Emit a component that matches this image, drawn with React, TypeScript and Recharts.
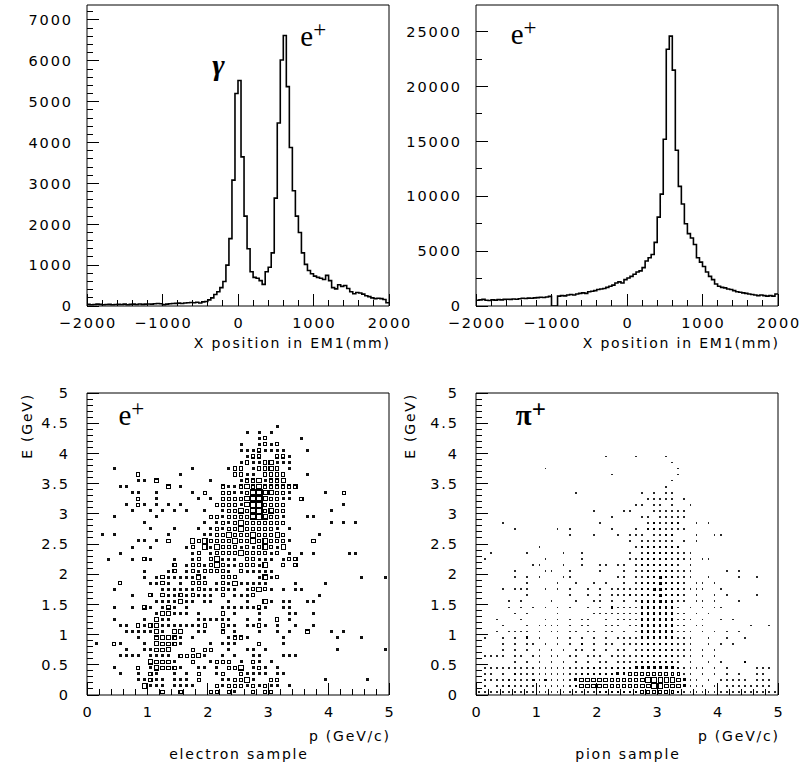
import React from "react";
import {
  LineChart,
  Line,
  XAxis,
  YAxis,
  ScatterChart,
  Scatter,
  ReferenceArea,
  ReferenceDot,
} from "recharts";

const FONT = "'DejaVu Sans', 'Liberation Sans', sans-serif";
const SERIF = "'Liberation Serif', 'DejaVu Serif', serif";

// ---------- top histograms: 100 bins of 40 mm from -2000 to 2000 mm ----------
const HIST_X_MIN = -2000;
const HIST_X_MAX = 2000;
const HIST_BIN = 40;

const gammaPositronCounts = [
  40, 30, 35, 45, 40, 30, 35, 40, 30, 35,
  40, 35, 45, 30, 40, 45, 35, 50, 40, 45,
  50, 45, 55, 60, 55, 30, 45, 55, 60, 65,
  70, 60, 75, 80, 85, 80, 90, 75, 100, 110,
  150, 200, 280, 350, 450, 600, 1000, 1650, 3080, 5200,
  5520, 3650, 2200, 1400, 840, 700, 680, 620, 530, 840,
  950, 1300, 2640, 4480, 6020, 6620, 5370, 3880, 2820, 2200,
  1800, 1300, 1020, 870, 790, 730, 700, 680, 650, 750,
  620, 450, 420, 520, 480, 500, 430, 350, 300, 330,
  320, 290, 250, 230, 200, 180, 190, 180, 160, 80,
];

const positronCounts = [
  520, 560, 600, 520, 500, 560, 540, 580, 560, 600,
  620, 600, 640, 620, 660, 700, 680, 720, 700, 740,
  760, 800, 780, 820, 880, 0, 0, 900, 950, 920,
  1000, 1050, 1000, 1100, 1150, 1200, 1150, 1300, 1350, 1400,
  1500, 1550, 1600, 1700, 1800, 1900, 2100, 2200, 2100, 2400,
  2550, 2700, 2900, 3100, 3200, 3500, 4100, 4400, 4700, 5800,
  8100, 10200, 15200, 23400, 24600, 21500, 14200, 10900, 9300, 7500,
  6600, 6200, 5600, 4400, 4000, 3600, 3100, 2700, 2400, 2000,
  1800, 1700, 1650, 1550, 1500, 1400, 1300, 1250, 1200, 1150,
  1100, 1050, 1000, 950, 1000, 950, 900, 950, 900, 1100,
];

const HIST1_Y_MAX = 7367;
const HIST2_Y_MAX = 27433;

// ---------- ticks ----------
function range(a: number, b: number, step: number): number[] {
  const out: number[] = [];
  const n = Math.round((b - a) / step);
  for (let k = 0; k <= n; k++) out.push(Math.round((a + k * step) * 1000) / 1000);
  return out;
}
const histXTicks = range(-2000, 2000, 200);
const histXMajor = [-2000, -1000, 0, 1000, 2000];
const hist1YTicks = range(0, 7200, 200);
const hist1YMajor = [0, 1000, 2000, 3000, 4000, 5000, 6000, 7000];
const hist2YTicks = range(0, 25000, 2500);
const hist2YMajor = [0, 5000, 10000, 15000, 20000, 25000];
const scatXTicks = range(0, 5, 0.2);
const scatXMajor = [0, 1, 2, 3, 4, 5];
const scatYTicks = range(0, 5, 0.1);
const scatYMajor = [0, 0.5, 1, 1.5, 2, 2.5, 3, 3.5, 4, 4.5, 5];

// ---------- bottom: 2D histograms, 50x50 cells of 0.1 GeV; "column:sizeLevel" per E row ----------
const CELL = 0.1;
const electronCells: [number, string][] = [
  [44, "31:1"],
  [43, "26:1 28:1 30:1"],
  [42, "28:1 29:2 35:1"],
  [41, "25:1 28:1 29:2 30:1 31:2"],
  [40, "25:1 26:1 27:1 28:2 29:1 30:1 31:1 32:1 36:1"],
  [39, "26:1 27:2 28:2 31:2 32:2 33:1"],
  [38, "25:1 26:2 27:1 28:1 29:2 30:3 31:1 32:1 33:1"],
  [37, "4:1 17:1 23:1 24:2 25:2 27:1 28:2 29:2 30:3 31:2 33:1"],
  [36, "8:2 15:1 24:2 25:2 26:1 27:1 29:2 30:2 31:2 32:2 36:1"],
  [35, "8:1 9:1 11:2 20:1 25:1 26:2 27:2 28:3 29:1 30:2 31:2 32:3"],
  [34, "5:1 6:1 13:2 15:1 22:2 23:1 24:1 25:2 26:3 27:2 28:3 29:2 30:2 31:2 32:2 33:2 34:2"],
  [33, "7:1 8:1 11:1 17:1 19:2 22:2 23:2 24:1 25:1 26:2 27:4 28:4 29:3 30:3 31:2 32:2 33:1 39:1 42:2"],
  [32, "8:2 11:1 18:1 20:1 22:2 23:2 24:2 25:2 26:3 27:4 28:4 29:3 30:2 31:2 32:1 33:1 35:2"],
  [31, "6:1 8:2 9:1 11:1 13:1 15:1 21:2 22:2 23:2 24:2 25:1 26:3 27:4 28:4 29:2 30:2 31:2 32:2 42:1"],
  [30, "7:1 10:1 12:1 14:1 16:1 19:1 22:1 23:2 24:2 25:3 26:2 27:3 28:4 29:2 30:3 31:2 32:2 40:1"],
  [29, "4:1 11:1 20:2 21:2 22:1 23:2 24:2 25:2 26:2 27:3 28:4 29:3 30:2 31:2 32:1 36:1 37:1"],
  [28, "9:1 19:1 21:1 22:2 23:1 24:2 25:3 26:2 27:2 28:2 29:2 30:2 31:2 32:2 40:1 42:1 44:1"],
  [27, "10:1 14:1 18:1 20:1 21:2 22:1 23:2 24:2 25:3 26:2 27:2 28:2 29:2 30:2 31:1 33:1"],
  [26, "2:1 4:1 13:1 19:1 20:1 21:2 22:2 23:3 24:2 25:2 26:2 27:3 28:2 29:2 30:2 31:3 32:2 38:1"],
  [25, "8:1 9:1 11:1 13:2 17:3 18:2 19:3 20:2 21:2 22:2 23:2 24:3 25:2 26:2 27:3 28:2 29:3 30:2 31:2 32:2 33:1 37:2"],
  [24, "7:1 10:1 16:1 17:2 19:3 20:1 21:3 22:2 23:2 24:2 25:1 26:2 27:1 28:2 29:3 30:2 31:1 32:3"],
  [23, "5:1 17:1 18:2 20:1 21:2 22:2 23:2 24:2 25:3 26:2 27:2 28:2 29:2 30:1 31:2 33:1 35:1 37:1 43:1 44:1"],
  [22, "3:1 7:1 9:2 10:1 14:1 17:1 18:2 20:2 21:3 22:1 23:1 24:1 26:2 27:2 28:1 29:1 30:1 32:1 33:2 34:2"],
  [21, "14:2 16:1 17:2 18:2 19:1 20:2 21:3 22:2 23:1 24:1 25:2 26:2 27:2 28:1 29:3 32:2 34:2"],
  [20, "9:1 13:1 14:2 16:1 17:2 18:1 19:2 20:2 21:2 22:2 23:1 25:2 26:1 27:1 28:1 29:1 30:1"],
  [19, "9:1 11:1 12:2 13:1 14:1 15:1 16:1 17:1 18:3 19:1 22:2 23:2 24:2 28:1 29:3 30:1 31:2 45:1 49:1"],
  [18, "5:2 10:1 11:1 12:2 13:1 15:1 17:2 18:2 19:2 21:1 22:2 23:1 24:3 25:1 26:1 27:1 28:1 29:1 34:1 39:1"],
  [17, "4:1 12:1 13:1 14:1 15:1 16:1 17:1 18:2 19:1 20:1 21:1 22:2 23:1 24:1 26:1 27:2 28:3 29:2 30:1 32:1 34:1 35:1"],
  [16, "7:1 10:2 12:2 13:1 14:1 15:2 16:1 17:2 18:1 19:1 20:1 22:2 24:1 25:1 26:1 27:2 38:1"],
  [15, "11:1 12:1 13:1 14:1 15:3 16:1 17:1 19:1 20:1 23:1 26:1 29:3 30:1 32:1 33:1 36:1 37:1"],
  [14, "4:1 7:1 9:2 10:1 12:1 13:2 14:1 16:1 22:1 23:1 24:1 25:1 26:1 27:1 28:2 29:1 32:1 33:1"],
  [13, "11:1 12:2 13:3 14:1 15:1 16:1 18:1 22:2 24:1 28:1 33:1 34:1 37:1"],
  [12, "4:1 9:1 11:2 12:1 13:1 18:1 19:1 20:1 21:1 22:1 23:1 26:1 28:1 31:2 33:1"],
  [11, "5:1 6:1 8:2 9:1 10:2 11:2 12:1 13:1 14:1 15:1 16:1 17:1 18:1 19:2 22:2 23:1 24:1 26:1 27:1 28:2 29:1 31:1 34:1 37:1"],
  [10, "6:1 7:1 8:1 9:1 10:1 11:3 12:1 14:3 15:3 18:1 19:1 22:2 24:1 28:1 31:1 33:1 36:2 40:1 42:1"],
  [9, "8:1 11:2 12:3 13:3 14:2 15:1 17:1 23:1 24:2 25:2 26:1 32:1 41:1 45:1"],
  [8, "1:1 4:2 5:1 9:1 11:3 12:2 13:2 14:2 15:1 20:1 22:1 23:1 24:1 28:2 32:1"],
  [7, "6:1 9:1 10:1 11:2 12:2 13:3 17:2 19:2 20:2 23:1 26:1 27:1 29:1 41:1 49:1"],
  [6, "5:1 6:1 7:1 8:1 10:1 11:1 12:1 13:1 15:2 16:2 17:2 18:3 19:1 22:1 24:1 27:1 28:1 32:1 33:1 34:1"],
  [5, "10:3 11:2 12:2 13:2 14:1 17:2 20:1 21:2 22:2 23:2 25:1 27:2 28:1 30:1"],
  [4, "4:1 8:2 10:1 11:3 12:2 13:2 14:2 15:1 18:1 19:1 21:1 23:2 24:2 25:3 27:1 28:2 29:1 31:1"],
  [3, "5:1 8:1 10:2 11:1 14:1 16:1 18:2 21:1 22:2 25:2 26:1 27:1 28:1 29:1 31:1 32:1"],
  [2, "8:1 9:1 10:2 11:1 12:1 14:1 15:1 16:1 18:2 22:1 23:1 24:2 25:2 26:3 27:1 30:2 31:2 39:1 46:1"],
  [1, "9:3 10:1 11:1 12:1 14:1 15:1 16:1 17:1 21:2 22:1 23:2 24:2 25:2 26:1 27:2 28:1 29:2 30:1 31:1 33:1"],
  [0, "12:2 15:2 20:2 21:2 23:2 24:1 27:2 29:2 30:2"],
];

const pionCells: [number, string][] = [
  [39, "21:1 26:1 31:1"],
  [38, "32:1"],
  [37, "11:1 33:1"],
  [36, "22:1 33:1"],
  [35, "32:1"],
  [34, "31:1"],
  [33, "16:1 27:1 29:1 31:1 32:1"],
  [32, "28:1 29:1 30:1 31:1 32:1 34:1"],
  [31, "26:1 27:1 29:1 30:1 32:1 35:1"],
  [30, "19:1 24:1 25:1 29:1 30:1 31:1 32:1 33:1 34:1"],
  [29, "22:1 27:1 28:1 30:1 31:1 32:1 33:1 34:1"],
  [28, "4:1 20:1 28:1 29:2 30:1 31:1 32:2 33:2 36:1 38:1"],
  [27, "6:1 13:1 15:1 22:1 26:1 28:2 29:2 30:2 31:1 32:1 33:1 34:1"],
  [26, "15:1 19:1 23:1 25:1 26:1 27:1 29:1 30:1 31:2 32:2 36:1 39:1 40:1"],
  [25, "25:1 27:1 28:1 29:1 30:1 31:1 32:1 34:1 36:1"],
  [24, "10:1 26:1 27:2 28:2 29:2 30:2 31:2 32:2 33:2"],
  [23, "2:1 8:1 14:1 17:1 25:1 27:1 28:2 29:2 30:2 31:2 32:2 33:1 34:1 35:1"],
  [22, "1:1 11:1 17:1 25:1 26:1 27:2 28:2 29:2 30:2 31:2 32:1 33:2 34:1 35:1 37:1 38:1"],
  [21, "9:1 10:1 14:1 17:1 20:1 21:1 23:1 24:1 26:1 27:2 28:2 29:2 30:2 31:2 32:2 33:1 35:1"],
  [20, "6:1 11:1 12:1 15:1 20:1 24:1 26:1 27:1 28:2 29:2 30:2 31:2 32:2 33:1 34:1 35:1 41:1 43:1"],
  [19, "6:1 8:1 10:1 14:1 15:1 23:1 24:1 26:1 27:1 28:2 29:2 30:3 31:2 32:2 33:1 34:1 35:1 38:1 43:1 46:1"],
  [18, "8:1 13:1 16:1 19:1 21:1 24:1 26:1 27:2 28:2 29:2 30:3 31:2 32:2 33:2 34:1 36:1 37:1 39:1"],
  [17, "4:1 6:1 7:1 8:1 11:1 13:1 15:1 18:1 20:1 22:1 23:1 24:1 25:1 26:1 27:2 28:2 29:3 30:3 31:2 32:2 33:2 34:1 35:1 36:1 37:1 40:1"],
  [16, "8:1 15:1 18:1 20:1 22:1 23:1 24:1 25:2 26:1 27:2 28:2 29:2 30:3 31:2 32:2 33:2 34:1 36:1 39:1 41:1 46:1"],
  [15, "5:1 7:1 12:1 16:1 19:1 20:1 22:1 24:1 26:1 27:2 28:2 29:2 30:3 31:2 32:2 33:1 34:1 36:1 37:1 39:1 43:1"],
  [14, "5:1 7:1 9:1 11:1 13:1 15:1 18:1 20:1 22:2 23:1 24:1 25:1 26:1 27:2 28:2 29:2 30:2 31:2 32:2 33:1 35:1 37:1 39:1 40:1"],
  [13, "6:1 8:1 13:1 19:1 20:1 21:1 22:1 23:1 24:1 25:1 26:1 27:2 28:2 29:2 30:2 31:2 32:2 33:1 34:1 36:1 38:1"],
  [12, "3:1 7:1 11:1 13:1 15:1 17:1 18:1 21:1 23:1 24:1 25:1 26:1 27:2 28:2 29:2 30:2 31:2 32:2 33:1 34:1 35:1 37:1 40:1 42:1"],
  [11, "4:1 8:1 10:1 11:1 12:1 13:1 15:1 17:1 18:1 21:1 22:1 23:1 25:1 26:1 27:2 28:2 29:2 30:2 31:2 32:2 33:1 34:1 36:1 37:1 45:1 48:1"],
  [10, "3:1 5:1 6:1 7:1 8:1 10:1 12:1 13:1 15:1 16:1 18:1 19:1 21:1 22:1 24:1 26:1 27:2 28:2 29:2 30:2 31:2 32:2 33:1 34:1 35:1 37:1 39:1 41:1 43:1"],
  [9, "1:1 4:1 6:1 8:2 10:1 13:1 15:1 17:1 19:1 21:1 23:1 24:1 25:1 26:1 27:2 28:2 29:2 30:2 31:2 32:2 33:1 34:1 35:1 38:1 41:1 44:1"],
  [8, "4:1 6:1 8:1 9:1 11:1 13:1 15:1 17:2 19:1 21:1 22:1 24:1 25:1 26:1 27:2 28:2 29:2 30:2 31:2 32:2 33:1 34:1 35:1 38:1 40:1 42:1"],
  [7, "4:1 6:1 8:1 10:1 12:1 14:1 16:1 17:1 19:1 21:1 23:1 24:1 26:1 27:1 28:2 29:2 30:2 31:2 32:2 33:1 34:1 35:1 37:1 39:1"],
  [6, "1:1 2:1 3:1 4:1 6:1 7:1 9:1 10:1 12:1 13:1 15:1 16:1 18:1 19:1 20:1 22:1 23:1 24:1 25:1 26:1 27:2 28:2 29:2 30:2 31:2 32:2 33:1 34:1 35:1 37:1 39:1"],
  [5, "6:1 8:1 10:1 12:1 14:1 16:1 18:1 20:1 21:1 23:1 24:1 25:1 26:1 27:2 28:2 29:2 30:2 31:2 32:2 33:1 35:1 38:1 40:1 44:2"],
  [4, "1:1 2:1 3:1 4:1 5:1 6:1 7:1 8:1 9:1 10:1 11:1 12:1 13:1 14:1 15:1 16:1 17:1 18:2 19:2 20:2 21:1 22:2 23:2 24:2 25:2 26:3 27:3 28:3 29:3 30:3 31:3 32:3 33:2 34:1 35:1 36:1 37:1 39:1 41:1 46:1 47:1 48:1"],
  [3, "1:1 2:1 4:1 6:2 7:1 8:1 9:1 10:1 11:1 12:1 13:1 14:1 15:1 16:1 17:2 18:2 19:2 20:2 21:2 22:2 23:3 24:3 25:6 26:6 27:6 28:6 29:6 30:6 31:6 32:6 33:6 34:1 35:1 37:1 39:1 41:1 43:1 46:1 47:1"],
  [2, "1:1 2:1 3:1 4:1 5:2 6:1 7:1 8:1 9:2 10:1 11:2 12:1 13:1 14:1 15:1 16:3 17:4 18:4 19:4 20:4 21:4 22:4 23:4 24:4 25:4 26:4 27:4 28:5 29:5 30:5 31:5 32:5 33:4 34:3 35:1 36:1 38:1 40:1 41:1 42:1 43:1 44:1 46:1 47:1 48:1"],
  [1, "1:1 3:1 4:1 5:2 6:1 7:1 8:1 9:1 10:1 11:1 12:1 13:1 14:1 15:1 16:2 17:4 18:4 19:4 20:4 21:4 22:4 23:4 24:4 25:4 26:4 27:4 28:4 29:5 30:5 31:4 32:4 33:4 34:3 35:1 36:1 37:1 39:1 41:1 42:1 43:1 44:1 45:1 46:1 47:1 48:1"],
  [0, "0:1 1:1 2:1 3:1 4:1 5:1 6:1 7:1 8:1 9:1 10:1 11:1 12:1 13:1 14:1 15:1 16:1 17:1 18:1 19:1 20:2 21:2 22:2 23:2 24:2 25:2 26:2 27:6 28:6 29:6 30:6 31:6 32:6 33:2 34:1 35:1 36:1 37:1 38:1 39:1 40:1 41:1 42:1 43:1 44:1 45:1 46:1 47:1 48:1 49:1"],
];

// ---------- helpers ----------
function histData(counts: number[]) {
  const rows = counts.map((v, k) => ({ x: HIST_X_MIN + k * HIST_BIN, v }));
  rows.push({ x: HIST_X_MAX, v: counts[counts.length - 1] });
  return rows;
}

function cellData(cells: [number, string][]) {
  const pts: { p: number; E: number; n: number }[] = [];
  for (const [j, s] of cells) {
    for (const tok of s.split(" ")) {
      const [i, l] = tok.split(":").map(Number);
      pts.push({ p: (i + 0.5) * CELL, E: (j + 0.5) * CELL, n: l });
    }
  }
  return pts;
}

const fmtNum = (v: number) => (v < 0 ? "\u2212" + Math.abs(v) : String(v));
const isIn = (arr: number[], v: number) => arr.some((m) => Math.abs(m - v) < 1e-6);

const LS = 1.9;
const TICK_FS = 14.5;

function yTick(majors: number[], gap: number) {
  return (props: any) => {
    const { x, y, payload } = props;
    const v = payload.value as number;
    const major = isIn(majors, v);
    return (
      <g>
        <line x1={x} y1={y} x2={x + (major ? 12 : 6)} y2={y} stroke="#000" strokeWidth={1} shapeRendering="crispEdges" />
        {major ? (
          <text
            x={x - gap + LS}
            y={y}
            dy="0.36em"
            textAnchor="end"
            fontFamily={FONT}
            fontSize={TICK_FS}
            fill="#000"
            style={{ letterSpacing: `${LS}px` }}
          >
            {fmtNum(v)}
          </text>
        ) : null}
      </g>
    );
  };
}

function xTick(majors: number[]) {
  return (props: any) => {
    const { x, y, payload } = props;
    const v = payload.value as number;
    const major = isIn(majors, v);
    return (
      <g>
        <line x1={x} y1={y} x2={x} y2={y - (major ? 12 : 6)} stroke="#000" strokeWidth={1} shapeRendering="crispEdges" />
        {major ? (
          <text
            x={x + LS / 2}
            y={y + 22}
            textAnchor="middle"
            fontFamily={FONT}
            fontSize={TICK_FS}
            fill="#000"
            style={{ letterSpacing: `${LS}px` }}
          >
            {fmtNum(v)}
          </text>
        ) : null}
      </g>
    );
  };
}

const titleStyle = { letterSpacing: "1.8px" };

function textAt(dx: number, dy: number, text: string, anchor: "start" | "middle" | "end") {
  return (p: any) => (
    <text
      x={p.cx + dx + (anchor === "end" ? 1.8 : anchor === "middle" ? 0.9 : 0)}
      y={p.cy + dy}
      textAnchor={anchor}
      fontFamily={FONT}
      fontSize={14}
      fill="#000"
      style={titleStyle}
    >
      {text}
    </text>
  );
}

function rotatedAt(dx: number, text: string) {
  return (p: any) => {
    const x = p.cx + dx;
    const y = p.cy;
    return (
      <text
        x={x}
        y={y}
        transform={`rotate(-90, ${x}, ${y})`}
        textAnchor="end"
        fontFamily={FONT}
        fontSize={14}
        fill="#000"
        style={titleStyle}
      >
        {text}
      </text>
    );
  };
}

function particleLabel(
  base: string,
  sup: string,
  size: number,
  supSize: number,
  bold: boolean,
  italic: boolean,
  supDy: number,
  supDx: number
) {
  return (p: any) => (
    <text
      x={p.cx}
      y={p.cy}
      fontFamily={SERIF}
      fontSize={size}
      fontWeight={bold ? "bold" : "normal"}
      fontStyle={italic ? "italic" : "normal"}
      fill="#000"
    >
      {base}
      {sup ? (
        <tspan dx={supDx} dy={supDy} fontSize={supSize}>
          {sup}
        </tspan>
      ) : null}
    </text>
  );
}

// mark renderers
const electronMark = (props: any) => {
  const { cx, cy } = props;
  const n = props.payload?.n ?? props.n;
  if (n === 1)
    return <rect x={cx - 1.5} y={cy - 1.5} width={3} height={3} fill="#111" shapeRendering="crispEdges" />;
  const s = n === 2 ? 3.2 : n === 3 ? 4.4 : 5.2;
  const sw = n === 4 ? 1.6 : 1.1;
  return (
    <rect
      x={cx - s / 2}
      y={cy - s / 2}
      width={s}
      height={s}
      fill="#fff"
      stroke="#000"
      strokeWidth={sw}
      shapeRendering="crispEdges"
    />
  );
};

const pionMark = (props: any) => {
  const { cx, cy } = props;
  const n = props.payload?.n ?? props.n;
  if (n <= 3) {
    const s = n === 1 ? 1.8 : n === 2 ? 2.3 : 2.9;
    const c = n === 1 ? "#2a2a2a" : "#000";
    return <rect x={cx - s / 2} y={cy - s / 2} width={s} height={s} fill={c} shapeRendering="crispEdges" />;
  }
  const s = n === 4 ? 3.8 : n === 5 ? 4.4 : 2.6;
  const sw = 1;
  return (
    <rect
      x={cx - s / 2}
      y={cy - s / 2}
      width={s}
      height={s}
      fill="#fff"
      stroke="#000"
      strokeWidth={sw}
      shapeRendering="crispEdges"
    />
  );
};

// ---------- panels ----------
type HistProps = {
  counts: number[];
  yMax: number;
  yTicks: number[];
  yMajor: number[];
  width: number;
  marginRight: number;
  yAxisWidth: number;
  notes: React.ReactNode;
};

function HistPanel({ counts, yMax, yTicks, yMajor, width, marginRight, yAxisWidth, notes }: HistProps) {
  return (
    <LineChart width={width} height={370} data={histData(counts)} margin={{ top: 5, right: marginRight, left: 0, bottom: 0 }}>
      <XAxis
        dataKey="x"
        type="number"
        domain={[HIST_X_MIN, HIST_X_MAX]}
        allowDataOverflow
        ticks={histXTicks}
        interval={0}
        tick={xTick(histXMajor)}
        tickLine={false}
        axisLine={false}
        tickSize={0}
        tickMargin={0}
        height={64}
      />
      <YAxis
        type="number"
        domain={[0, yMax]}
        allowDataOverflow
        ticks={yTicks}
        interval={0}
        tick={yTick(yMajor, 16)}
        tickLine={false}
        axisLine={false}
        tickSize={0}
        tickMargin={0}
        width={yAxisWidth}
      />
      <ReferenceArea
        x1={HIST_X_MIN}
        x2={HIST_X_MAX}
        y1={0}
        y2={yMax}
        fill="none"
        fillOpacity={0}
        stroke="#000"
        strokeWidth={1}
        ifOverflow="visible"
      />
      <Line dataKey="v" type="stepAfter" dot={false} stroke="#000" strokeWidth={1.6} isAnimationActive={false} />
      <ReferenceDot x={HIST_X_MAX} y={0} r={0} shape={textAt(0, 42, "X position in EM1(mm)", "end")} />
      {notes}
    </LineChart>
  );
}

type ScatProps = {
  cells: [number, string][];
  mark: (p: any) => React.ReactElement;
  width: number;
  marginRight: number;
  yAxisWidth: number;
  sample: string;
  yTitleDx: number;
  notes: React.ReactNode;
};

function ScatterPanel({ cells, mark, width, marginRight, yAxisWidth, sample, yTitleDx, notes }: ScatProps) {
  return (
    <ScatterChart width={width} height={382} margin={{ top: 8, right: marginRight, left: 0, bottom: 0 }}>
      <XAxis
        dataKey="p"
        type="number"
        domain={[0, 5]}
        allowDataOverflow
        ticks={scatXTicks}
        interval={0}
        tick={xTick(scatXMajor)}
        tickLine={false}
        axisLine={false}
        tickSize={0}
        tickMargin={0}
        height={72}
      />
      <YAxis
        dataKey="E"
        type="number"
        domain={[0, 5]}
        allowDataOverflow
        ticks={scatYTicks}
        interval={0}
        tick={yTick(scatYMajor, 19)}
        tickLine={false}
        axisLine={false}
        tickSize={0}
        tickMargin={0}
        width={yAxisWidth}
      />
      <ReferenceArea x1={0} x2={5} y1={0} y2={5} fill="none" fillOpacity={0} stroke="#000" strokeWidth={1} ifOverflow="visible" />
      <Scatter data={cellData(cells)} shape={mark} isAnimationActive={false} />
      <ReferenceDot x={5} y={0} r={0} shape={textAt(0, 46, "p (GeV/c)", "end")} />
      <ReferenceDot x={2.5} y={0} r={0} shape={textAt(0, 64, sample, "middle")} />
      <ReferenceDot x={0} y={5} r={0} shape={rotatedAt(yTitleDx, "E (GeV)")} />
      {notes}
    </ScatterChart>
  );
}

export default function App() {
  return (
    <div style={{ position: "absolute", left: 0, top: 0, width: 801, height: 767, background: "#fff", overflow: "hidden" }}>
      <div style={{ position: "absolute", left: 0, top: 0 }}>
        <HistPanel
          counts={gammaPositronCounts}
          yMax={HIST1_Y_MAX}
          yTicks={hist1YTicks}
          yMajor={hist1YMajor}
          width={420}
          marginRight={31}
          yAxisWidth={87}
          notes={[
            <ReferenceDot key="g" x={-340} y={5650} r={0} shape={particleLabel("\u03b3", "", 30, 0, true, true, 0, 0)} />,
            <ReferenceDot key="e" x={825} y={6370} r={0} shape={particleLabel("e", "+", 29, 23, false, false, -9, 0)} />,
          ]}
        />
      </div>
      <div style={{ position: "absolute", left: 400, top: 0 }}>
        <HistPanel
          counts={positronCounts}
          yMax={HIST2_Y_MAX}
          yTicks={hist2YTicks}
          yMajor={hist2YMajor}
          width={401}
          marginRight={23}
          yAxisWidth={76}
          notes={[
            <ReferenceDot key="e" x={-1540} y={23850} r={0} shape={particleLabel("e", "+", 29, 23, false, false, -9, 0)} />,
          ]}
        />
      </div>
      <div style={{ position: "absolute", left: 0, top: 385 }}>
        <ScatterPanel
          cells={electronCells}
          mark={electronMark}
          width={420}
          marginRight={31}
          yAxisWidth={87}
          sample="electron sample"
          yTitleDx={-55.5}
          notes={[
            <ReferenceDot key="e" x={0.52} y={4.465} r={0} shape={particleLabel("e", "+", 29, 23, false, false, -9, 0)} />,
          ]}
        />
      </div>
      <div style={{ position: "absolute", left: 400, top: 385 }}>
        <ScatterPanel
          cells={pionCells}
          mark={pionMark}
          width={401}
          marginRight={23}
          yAxisWidth={76}
          sample="pion sample"
          yTitleDx={-61}
          notes={[
            <ReferenceDot key="pi" x={0.66} y={4.47} r={0} shape={particleLabel("\u03c0", "+", 29, 25, true, false, -7, 0)} />,
          ]}
        />
      </div>
    </div>
  );
}
